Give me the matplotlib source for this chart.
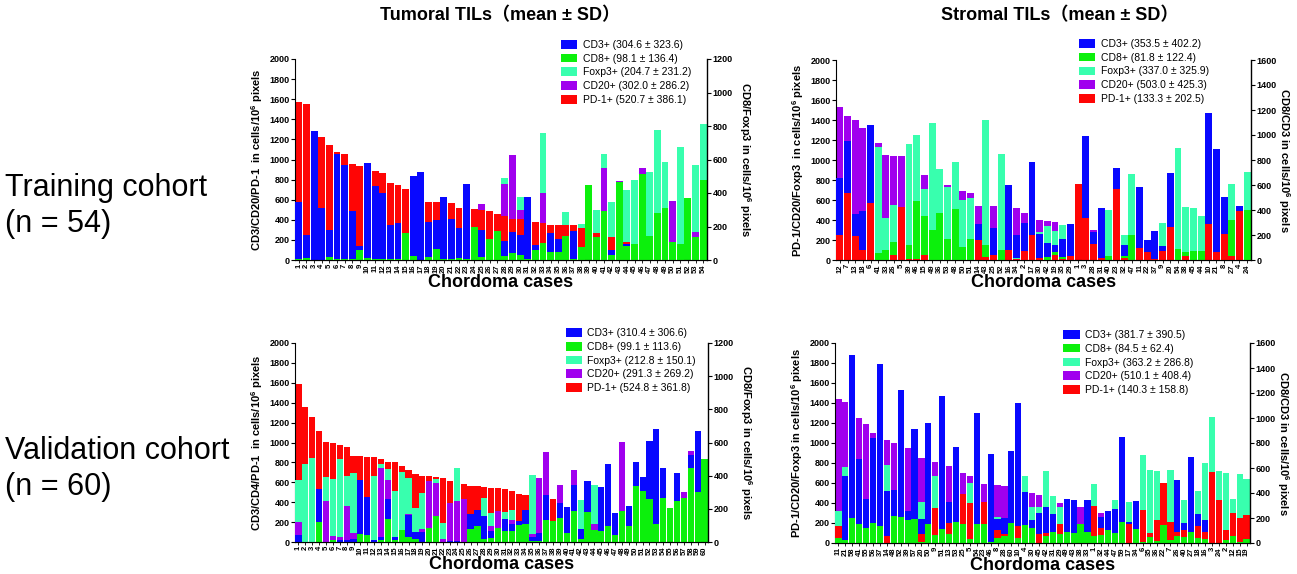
import numpy as np
import matplotlib
matplotlib.use("Agg")
import matplotlib.pyplot as plt
from matplotlib.patches import Patch

plt.rcParams['font.family'] = ['Liberation Sans', 'DejaVu Sans', 'Noto Sans CJK SC']
plt.rcParams['mathtext.fontset'] = 'custom'
plt.rcParams['mathtext.rm'] = 'Liberation Sans'
plt.rcParams['mathtext.bf'] = 'Liberation Sans:bold'

# series order: CD3, CD8, Foxp3, CD20, PD-1
names = ["CD3+", "CD8+", "Foxp3+", "CD20+", "PD-1+"]
colors = ["#0808ff", "#0cf00c", "#38ffae", "#a000ee", "#ff0505"]

# all heights are as read against the LEFT axis (0-2000) of each panel

# ---- Tumoral TILs, training cohort
tl_cases = [str(i) for i in range(1, 55)]
tl_cd3 = [580, 250, 1280, 520, 300, 1050, 945, 490, 140, 970, 735, 670, 345, 365, 0, 840, 875, 380, 395, 630,
          405, 315, 755, 0, 300, 0, 0, 185, 275, 250, 625, 150, 0, 270, 210, 0, 290, 0, 0, 0,
          0, 95, 0, 155, 0, 0, 0, 0, 0, 0, 0, 0, 0, 0]
tl_cd8 = [5, 20, 0, 0, 25, 10, 10, 10, 95, 15, 10, 10, 10, 5, 265, 40, 0, 25, 110, 5,
          5, 15, 5, 330, 25, 205, 285, 40, 65, 45, 10, 100, 165, 80, 75, 235, 10, 130, 745, 225,
          485, 50, 775, 135, 155, 860, 240, 465, 515, 180, 155, 620, 225, 800]
tl_foxp3 = [0, 0, 0, 0, 0, 0, 0, 0, 0, 0, 0, 0, 0, 0, 0, 0, 0, 0, 0, 0,
            0, 0, 0, 0, 0, 0, 0, 820, 0, 630, 0, 0, 1260, 0, 0, 480, 0, 360, 0, 495,
            1050, 580, 0, 695, 800, 0, 875, 1295, 980, 0, 1120, 0, 950, 1355]
tl_cd20 = [0, 0, 0, 0, 0, 0, 0, 0, 0, 0, 0, 0, 0, 0, 0, 0, 0, 0, 0, 0,
           0, 0, 0, 0, 555, 0, 0, 760, 1045, 500, 0, 0, 670, 0, 0, 0, 0, 0, 0, 0,
           920, 0, 785, 0, 0, 920, 0, 0, 0, 585, 0, 0, 280, 0]
tl_pd1 = [1570, 1555, 0, 1220, 1140, 1070, 1050, 960, 940, 0, 890, 870, 765, 745, 705, 0, 0, 575, 575, 0,
          565, 520, 0, 505, 495, 490, 455, 435, 405, 405, 0, 380, 370, 345, 345, 345, 345, 320, 0, 265,
          0, 225, 0, 175, 0, 0, 0, 0, 0, 0, 0, 0, 0, 0]
tl_legend = ["(304.6 ± 323.6)", "(98.1 ± 136.4)", "(204.7 ± 231.2)", "(302.0 ± 286.2)", "(520.7 ± 386.1)"]

# ---- Stromal TILs, training cohort
tr_cases = ["12", "7", "13", "18", "6", "41", "33", "26", "5", "39", "46", "15", "49", "36", "53", "48", "50",
            "51", "14", "43", "25", "52", "16", "34", "2", "17", "30", "42", "19", "35", "29", "1", "3", "28",
            "31", "40", "23", "32", "47", "11", "22", "37", "9", "20", "54", "38", "45", "44", "10", "21", "8",
            "27", "4", "24"]
tr_cd3 = [825, 1195, 460, 495, 1350, 0, 0, 0, 0, 0, 0, 0, 0, 0, 0, 0, 0, 0, 360, 0,
          320, 0, 750, 255, 375, 985, 265, 170, 150, 210, 360, 0, 1245, 280, 520, 0, 925, 150, 0, 735,
          205, 290, 145, 870, 0, 0, 0, 0, 1475, 1115, 630, 0, 540, 0]
tr_cd8 = [0, 0, 0, 0, 0, 75, 100, 180, 0, 155, 595, 440, 305, 475, 215, 510, 130, 210, 0, 150,
          0, 105, 0, 0, 0, 0, 0, 35, 85, 30, 0, 0, 0, 0, 0, 40, 0, 40, 250, 0,
          0, 15, 0, 0, 115, 80, 95, 95, 0, 0, 0, 400, 0, 500]
tr_foxp3 = [0, 0, 0, 0, 0, 1130, 420, 550, 0, 1165, 1250, 715, 1370, 910, 735, 980, 600, 620, 0, 1400,
            0, 1060, 0, 20, 0, 0, 280, 340, 290, 355, 0, 0, 0, 0, 0, 500, 0, 250, 865, 0,
            0, 0, 375, 0, 1120, 530, 525, 440, 0, 0, 0, 765, 0, 880]
tr_cd20 = [1535, 1445, 1405, 1320, 0, 1175, 1055, 1045, 1040, 0, 0, 855, 0, 0, 755, 0, 690, 670, 545, 0,
           540, 0, 0, 520, 475, 0, 400, 390, 380, 0, 0, 0, 0, 300, 0, 0, 0, 0, 0, 0,
           0, 0, 0, 0, 0, 0, 0, 0, 0, 0, 0, 0, 0, 0]
tr_pd1 = [250, 670, 240, 100, 575, 0, 0, 55, 535, 15, 10, 50, 0, 0, 0, 0, 0, 0, 200, 30,
          55, 0, 105, 15, 95, 250, 20, 0, 55, 15, 40, 760, 425, 160, 20, 0, 710, 20, 0, 125,
          80, 10, 95, 335, 0, 40, 0, 0, 365, 85, 265, 45, 490, 0]
tr_legend = ["(353.5 ± 402.2)", "(81.8 ± 122.4)", "(337.0 ± 325.9)", "(503.0 ± 425.3)", "(133.3 ± 202.5)"]

# ---- Tumoral TILs, validation cohort
bl_cases = [str(i) for i in range(1, 61)]
bl_cd3 = [75, 0, 0, 535, 0, 0, 25, 25, 35, 625, 455, 25, 55, 435, 55, 0, 270, 105, 105, 0,
          0, 0, 15, 10, 0, 280, 325, 265, 115, 0, 235, 185, 210, 320, 50, 90, 475, 0, 395, 350,
          570, 130, 610, 0, 555, 780, 295, 0, 365, 800, 655, 1015, 1135, 745, 0, 690, 0, 875, 1115, 0]
bl_cd8 = [0, 0, 0, 200, 0, 20, 0, 0, 0, 80, 75, 0, 25, 235, 25, 125, 55, 30, 0, 145,
          265, 0, 0, 0, 0, 135, 160, 30, 40, 145, 110, 110, 175, 185, 10, 10, 220, 215, 245, 90,
          310, 30, 300, 125, 115, 160, 70, 310, 165, 560, 510, 430, 185, 440, 340, 415, 440, 745, 500, 835]
bl_foxp3 = [620, 780, 840, 0, 650, 635, 835, 665, 690, 0, 0, 665, 780, 735, 515, 705, 645, 345, 490, 0,
            635, 190, 0, 745, 0, 0, 0, 445, 295, 0, 300, 320, 0, 0, 670, 0, 0, 0, 0, 0,
            0, 420, 0, 575, 0, 0, 0, 0, 0, 0, 0, 0, 0, 0, 0, 0, 0, 0, 0, 0]
bl_cd20 = [200, 0, 0, 0, 415, 60, 50, 360, 95, 0, 0, 0, 745, 625, 0, 0, 280, 0, 130, 610,
           590, 30, 390, 410, 430, 0, 0, 0, 165, 310, 0, 225, 0, 0, 85, 645, 900, 0, 570, 0,
           725, 0, 0, 185, 0, 0, 0, 1010, 0, 0, 0, 0, 0, 0, 0, 0, 500, 910, 0, 0]
bl_pd1 = [1590, 1360, 1255, 1115, 1010, 990, 970, 950, 865, 865, 850, 850, 835, 805, 800, 760, 720, 680, 665, 660,
          650, 640, 610, 0, 580, 565, 565, 550, 545, 540, 535, 510, 480, 470, 0, 0, 0, 430, 0, 0,
          0, 0, 0, 0, 0, 0, 0, 0, 0, 0, 0, 0, 0, 0, 0, 0, 0, 0, 0, 0]
bl_legend = ["(310.4 ± 306.6)", "(99.1 ± 113.6)", "(212.8 ± 150.1)", "(291.3 ± 269.2)", "(524.8 ± 361.8)"]

# ---- Stromal TILs, validation cohort
br_cases = ["11", "21", "58", "41", "55", "56", "37", "14", "48", "52", "39", "57", "20", "50", "9", "51", "13",
            "53", "25", "5", "54", "23", "46", "8", "28", "60", "10", "4", "30", "45", "42", "31", "29", "49",
            "43", "38", "33", "1", "32", "44", "47", "59", "17", "34", "6", "35", "36", "22", "7", "26", "40",
            "27", "18", "16", "3", "24", "2", "12", "15", "19"]
br_cd3 = [0, 670, 1880, 845, 445, 1055, 1790, 520, 535, 1530, 325, 1145, 245, 1205, 0, 1475, 415, 965, 0, 0,
          1305, 0, 890, 245, 250, 925, 1400, 510, 235, 305, 365, 295, 0, 440, 435, 0, 435, 0, 260, 325,
          345, 1060, 210, 420, 0, 0, 0, 0, 0, 635, 200, 865, 290, 235, 0, 0, 0, 0, 0, 0]
br_cd8 = [55, 30, 250, 195, 155, 200, 170, 0, 270, 265, 230, 240, 15, 190, 80, 145, 90, 210, 190, 40,
          195, 195, 15, 50, 75, 205, 55, 185, 150, 0, 70, 110, 90, 115, 105, 195, 115, 70, 80, 135,
          100, 215, 0, 145, 10, 60, 20, 180, 35, 70, 65, 115, 55, 40, 0, 0, 30, 70, 15, 45]
br_foxp3 = [320, 765, 0, 0, 0, 0, 0, 785, 0, 0, 0, 0, 415, 0, 670, 0, 0, 0, 0, 605,
            0, 0, 0, 260, 0, 0, 0, 670, 365, 360, 720, 470, 365, 0, 0, 0, 0, 595, 0, 0,
            435, 0, 410, 0, 880, 735, 725, 0, 730, 0, 430, 0, 520, 805, 1265, 725, 705, 440, 690, 640]
br_cd20 = [1440, 1415, 0, 1255, 1190, 1105, 0, 1030, 1000, 0, 955, 0, 850, 0, 815, 0, 770, 0, 700, 675,
           0, 590, 0, 585, 575, 0, 0, 0, 500, 480, 0, 0, 405, 0, 0, 360, 0, 0, 300, 0,
           0, 0, 0, 0, 0, 0, 0, 0, 0, 0, 0, 0, 0, 0, 0, 0, 0, 0, 0, 0]
br_pd1 = [170, 0, 0, 0, 0, 0, 0, 75, 0, 0, 0, 0, 90, 0, 355, 0, 205, 0, 490, 405,
          0, 415, 0, 135, 90, 0, 170, 0, 0, 90, 100, 0, 195, 0, 0, 0, 0, 370, 150, 0,
          0, 0, 195, 0, 330, 100, 235, 600, 210, 110, 130, 0, 170, 110, 710, 430, 135, 305, 250, 280]
br_legend = ["(381.7 ± 390.5)", "(84.5 ± 62.4)", "(363.2 ± 286.8)", "(510.1 ± 408.4)", "(140.3 ± 158.8)"]

sup6 = r"10$^{\mathbf{6}}$"


def panel(rect, cases, series, legend_vals, right_max, lab_left, lab_right, leg_xy, lab_x):
    ax = fig.add_axes(rect)
    h = np.array(series, dtype=float)       # 5 x n
    n = h.shape[1]
    x = np.arange(n)
    order = np.argsort(-h, axis=0)          # tallest drawn first (at the back)
    for r in range(5):
        idx = order[r]
        ax.bar(x, h[idx, x], width=0.9, color=[colors[k] for k in idx],
               edgecolor="none", zorder=2 + r)
    ax.set_xlim(-0.5, n - 0.5)
    ax.set_ylim(0, 2000)
    ax.set_yticks(np.arange(0, 2001, 200))
    ax.set_xticks(x)
    ax.set_xticklabels(cases, rotation=90, fontsize=5.5, fontweight="bold")
    ax.tick_params(axis="x", length=2, width=0.6, pad=1)
    ax.tick_params(axis="y", length=3, width=0.8, labelsize=6.5, pad=1)
    for t in ax.get_yticklabels():
        t.set_fontweight("bold")
    ax.spines["top"].set_visible(False)
    ax.spines["right"].set_visible(False)
    ax.set_ylabel(lab_left, fontsize=8, fontweight="bold")
    ax.yaxis.set_label_coords(lab_x[0], 0.5)
    ax.set_xlabel("Chordoma cases", fontsize=13, fontweight="bold", labelpad=1)

    ax2 = ax.twinx()
    ax2.set_ylim(0, right_max)
    ax2.set_yticks(np.arange(0, right_max + 1, 200))
    ax2.tick_params(axis="y", length=3, width=0.8, labelsize=6.5, pad=1)
    for t in ax2.get_yticklabels():
        t.set_fontweight("bold")
    ax2.spines["top"].set_visible(False)
    ax2.spines["left"].set_visible(False)
    ax2.spines["right"].set_linewidth(1.0)
    ax2.set_ylabel(lab_right, fontsize=8, fontweight="bold", rotation=270)
    ax2.yaxis.set_label_coords(lab_x[1], 0.5)

    handles = [Patch(facecolor=colors[k], edgecolor="none") for k in range(5)]
    labels = [names[k] + " " + legend_vals[k] for k in range(5)]
    ax.legend(handles, labels, loc="upper left", bbox_to_anchor=leg_xy, frameon=False,
              fontsize=7.5, handlelength=1.6, handleheight=0.9, labelspacing=0.36,
              handletextpad=0.5, borderpad=0.0, borderaxespad=0.0)
    return ax


fig = plt.figure(figsize=(12.97, 5.74), dpi=100)

W, H = 1297.0, 574.0
def rect(x0, x1, y0, y1):
    return [x0 / W, 1 - y1 / H, (x1 - x0) / W, (y1 - y0) / H]

panel(rect(295, 707, 59, 260), tl_cases, [tl_cd3, tl_cd8, tl_foxp3, tl_cd20, tl_pd1], tl_legend, 1200,
      "CD3/CD20/PD-1  in cells/" + sup6 + " pixels", "CD8/Foxp3 in cells/" + sup6 + " pixels",
      (0.645, 1.095), (-0.073, 1.112))
panel(rect(836, 1251, 60, 260), tr_cases, [tr_cd3, tr_cd8, tr_foxp3, tr_cd20, tr_pd1], tr_legend, 1600,
      "PD-1/CD20/Foxp3  in cells/" + sup6 + " pixels", "CD8/CD3 in cells/" + sup6 + " pixels",
      (0.585, 1.105), (-0.072, 1.098))
panel(rect(295, 708, 343, 542), bl_cases, [bl_cd3, bl_cd8, bl_foxp3, bl_cd20, bl_pd1], bl_legend, 1200,
      "CD3/CD4/PD-1  in cells/" + sup6 + " pixels", "CD8/Foxp3 in cells/" + sup6 + " pixels",
      (0.655, 1.075), (-0.073, 1.11))
panel(rect(835, 1250, 343, 543), br_cases, [br_cd3, br_cd8, br_foxp3, br_cd20, br_pd1], br_legend, 1600,
      "PD-1/CD20/Foxp3 in cells/" + sup6 + " pixels", "CD8/CD3 in cells/" + sup6 + " pixels",
      (0.55, 1.065), (-0.072, 1.099))

tfam = ['Liberation Sans', 'Noto Sans CJK SC', 'DejaVu Sans']
fig.text(500 / W, 1 - 16 / H, "Tumoral TILs（mean ± SD）", ha="center", va="center",
         fontsize=13, fontweight="bold", family=tfam)
fig.text(1060 / W, 1 - 16 / H, "Stromal TILs（mean ± SD）", ha="center", va="center",
         fontsize=13, fontweight="bold", family=tfam)

fig.text(5 / W, 1 - 206 / H, "Training cohort\n(n = 54)", ha="left", va="center",
         fontsize=22, linespacing=1.25)
fig.text(5 / W, 1 - 469 / H, "Validation cohort\n(n = 60)", ha="left", va="center",
         fontsize=22, linespacing=1.25)

fig.savefig("out.png", dpi=100)
